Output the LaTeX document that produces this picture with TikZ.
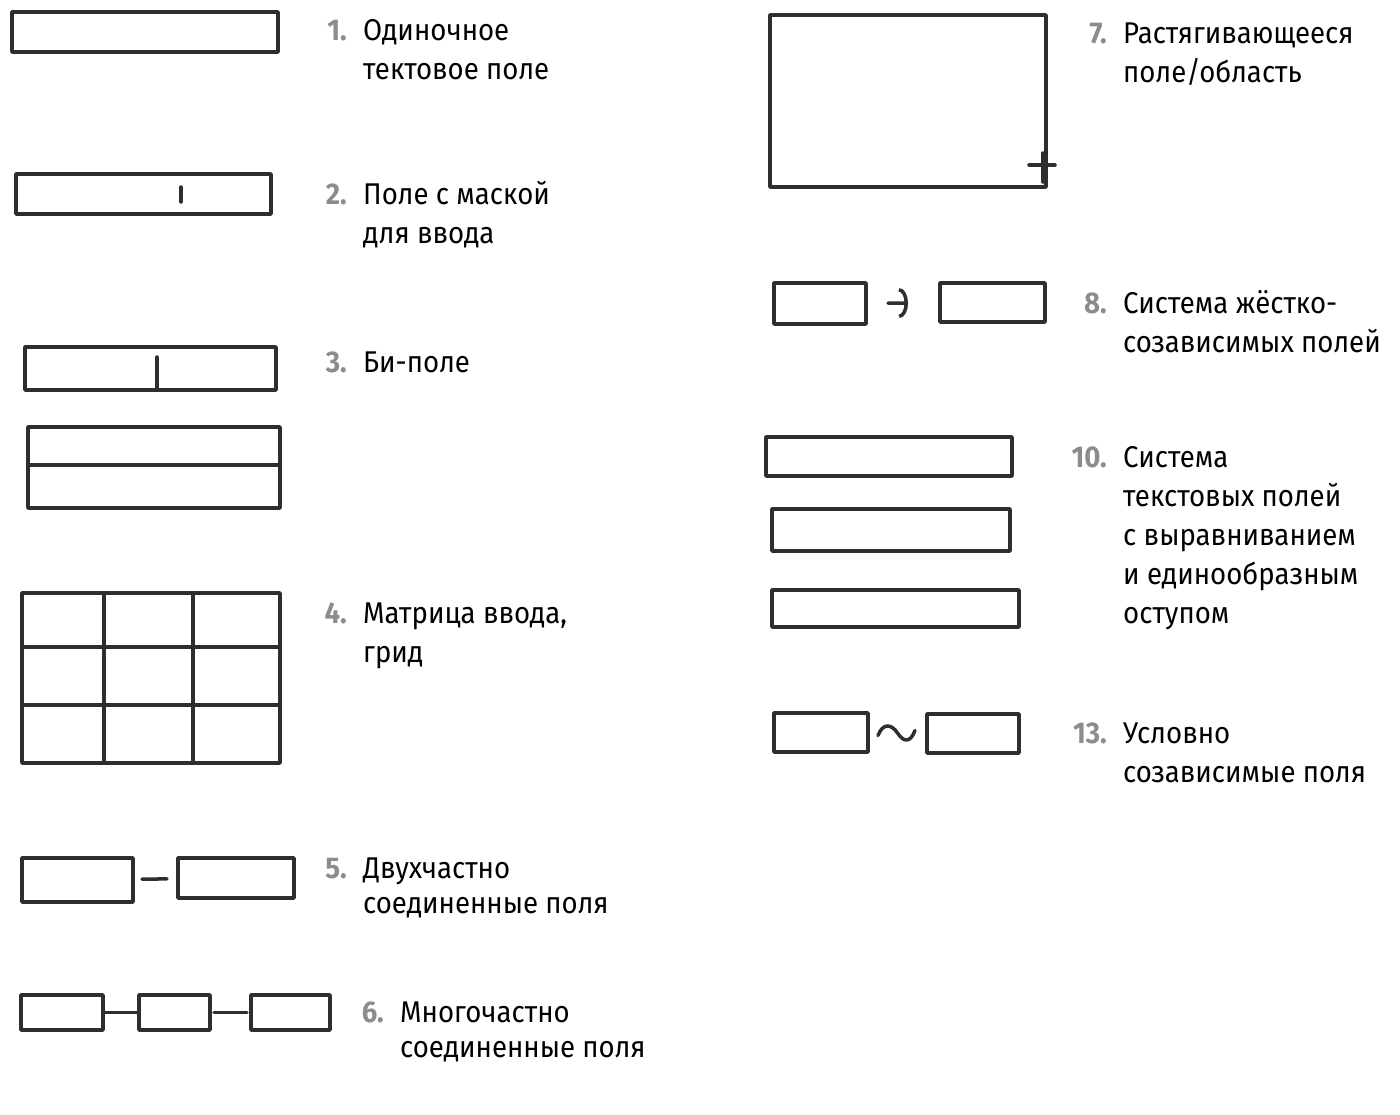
\documentclass[tikz,border=0pt]{standalone}
\usepackage{fontspec}
\setmainfont{Fira Sans}[FakeStretch=0.92]
\usetikzlibrary{positioning,arrows.meta,calc}
\colorlet{ink}{black!82}
\colorlet{numgray}{black!45}
\newcommand{\captext}[1]{\begin{tabular}[t]{@{}l@{}}#1\end{tabular}}
\begin{document}
\begin{tikzpicture}[x=1pt,y=-1pt,
    pen/.style={draw=ink,line width=3.5pt,line cap=round,line join=round},
    field/.style={pen,inner sep=0pt,outer sep=0pt,minimum width=#1},
    caption/.style={anchor=base west,inner sep=0pt,font=\fontsize{30}{39}\selectfont},
    num/.style={anchor=base east,inner sep=0pt,text=numgray,font=\fontsize{30}{39}\selectfont\bfseries,xshift=-16pt},
    tilde/.style={to path={($(\tikztostart.east)+(10,3)$) .. controls +(5,-13) and +(-6,-9)
        .. ($(\tikztostart.east)!0.5!(\tikztotarget.west)$) .. controls +(6,9) and +(-5,13) .. ($(\tikztotarget.west)+(-12,-3)$)}}]
    \fill[white] (0,0) rectangle (1400,1114);
    \useasboundingbox (0,0) rectangle (1400,1114);

    \node[field=266pt,minimum height=40pt] (f1) at (145,32) {};
    \node[caption] (t1) at (363,40) {\captext{Одиночное\\тектовое поле}};
    \node[num] (n1) at (t1.base west) {1.};

    \node[field=255pt,minimum height=40pt] (f2) at (143.5,194) {};
    \draw[pen] (181,187) -- (181,202);
    \node[caption] (t2) at (363,204) {\captext{Поле с маской\\для ввода}};
    \node[num] (n2) at (t2.base west) {2.};

    \node[field=251pt,minimum height=43pt] (f3) at (150.5,368.5) {};
    \draw[pen] (157,357) -- (157,390);
    \node[caption] (t3) at (363,372) {Би-поле};
    \node[num] (n3) at (t3.base west) {3.};
    \node[field=252pt,minimum height=81pt] (f3b) at (154,467.5) {};
    \draw[pen] (f3b.west |- 0,465) -- (f3b.east |- 0,465);

    \node[field=258pt,minimum height=170pt] (f4) at (151,678) {};
    \foreach \y in {647,705} \draw[pen] (f4.west |- 0,\y) -- (f4.east |- 0,\y);
    \foreach \x in {104,193} \draw[pen] (f4.north -| \x,0) -- (f4.south -| \x,0);
    \node[caption] (t4) at (363,623) {\captext{Матрица ввода,\\грид}};
    \node[num] (n4) at (t4.base west) {4.};

    \node[field=111pt,minimum height=44pt] (b5a) at (77.5,880) {};
    \node[field=116pt,minimum height=40pt] (b5b) at (236,878) {};
    \draw[pen,shorten <=9pt,shorten >=11pt] (b5a) -- (b5b);
    \node[caption,font=\fontsize{30}{35}\selectfont] (t5) at (363,878) {\captext{Двухчастно\\соединенные поля}};
    \node[num] (n5) at (t5.base west) {5.};

    \node[field=82pt,minimum height=35pt] (b6a) at (62,1012.5) {};
    \node[field=71pt,minimum height=35pt] (b6b) at (174.5,1012.5) {};
    \node[field=79pt,minimum height=35pt] (b6c) at (290.5,1012.5) {};
    \draw[pen,shorten <=2pt,shorten >=2pt] (b6a) -- (b6b); \draw[pen,shorten <=4pt,shorten >=4pt] (b6b) -- (b6c);
    \node[caption,font=\fontsize{30}{35}\selectfont] (t6) at (400,1022) {\captext{Многочастно\\соединенные поля}};
    \node[num] (n6) at (t6.base west) {6.};

    \node[field=276pt,minimum height=172pt] (f7) at (908,101) {};
    \draw[pen] (1029,165) -- (1055,165); \draw[pen] (1043,153) -- (1043,182);
    \node[caption] (t7) at (1123,43) {\captext{Растягивающееся\\поле/область}};
    \node[num] (n7) at (t7.base west) {7.};

    \node[field=92pt,minimum height=41pt] (b8a) at (820,303.5) {};
    \node[field=105pt,minimum height=39pt] (b8b) at (992.5,302.5) {};
    \draw[pen,-{Arc Barb[length=9pt,width=30pt]},shorten <=22pt,shorten >=32pt] (b8a) -- (b8b);
    \node[caption] (t8) at (1123,313) {\captext{Система жёстко-\\созависимых полей}};
    \node[num] (n8) at (t8.base west) {8.};

    \node[field=246pt,minimum height=39pt] (f10a) at (889,456.5) {};
    \node[field=238pt,minimum height=42pt] (f10b) at (891,530) {};
    \node[field=247pt,minimum height=37pt] (f10c) at (895.5,608.5) {};
    \node[caption] (t10) at (1123,467) {\captext{Система\\текстовых полей\\с выравниванием\\и единообразным\\оступом}};
    \node[num] (n10) at (t10.base west) {10.};

    \node[field=94pt,minimum height=39pt] (b13a) at (821,732.5) {};
    \node[field=92pt,minimum height=39pt] (b13b) at (973,733.5) {};
    \draw[pen] (b13a) to[tilde] (b13b);
    \node[caption] (t13) at (1123,743) {\captext{Условно\\созависимые поля}};
    \node[num] (n13) at (t13.base west) {13.};
\end{tikzpicture}
\end{document}
